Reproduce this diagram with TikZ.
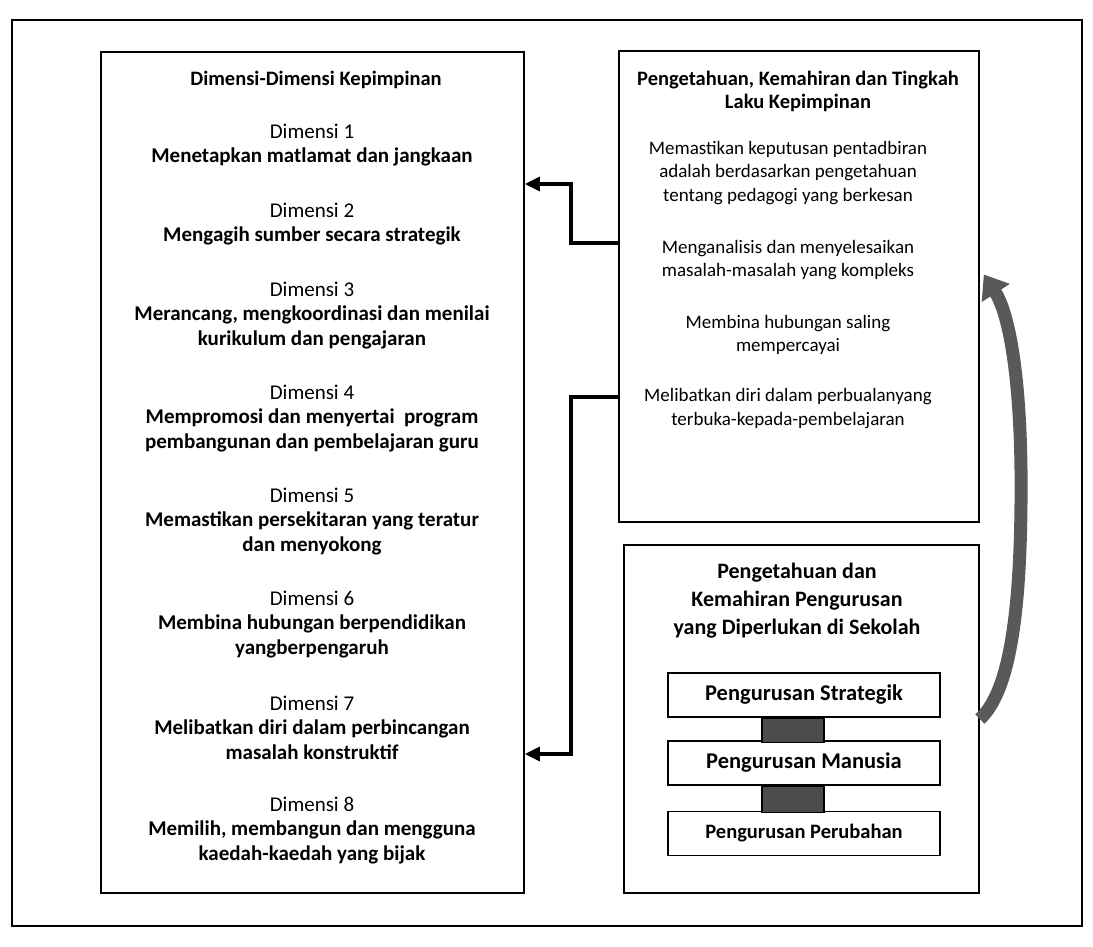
\documentclass[tikz,border=0pt]{standalone}
\usepackage{fontspec}
\setmainfont{Carlito}
\usetikzlibrary{calc, positioning, arrows.meta}

\begin{document}
\begin{tikzpicture}[x=1pt, y=-1pt, >={Triangle[length=15pt, width=14pt]},
    box/.style={draw, line width=1.6pt, rectangle, inner sep=0pt},
    subbox/.style={draw, line width=1.6pt, rectangle, minimum width=272pt, minimum height=44pt, font=\fontsize{22.5}{24}\selectfont\bfseries},
    link/.style={draw, line width=1.2pt, fill=black!70, minimum width=62pt, inner sep=0pt},
    dimtxt/.style={align=center, font=\fontsize{21}{24.5}\selectfont},
    knowtxt/.style={align=center, font=\fontsize{19}{23.5}\selectfont},
    conn/.style={line width=3.2pt}]
    \useasboundingbox (0,0) rectangle (1093,946);
        \node[box, minimum width=1070pt, minimum height=906pt] (frame) at (547,473) {};
        \node[box, minimum width=423pt, minimum height=841pt] (dims) at (312.5,472.5) {};
        \node[box, minimum width=360pt, minimum height=471pt] (know) at (799,286.5) {};
        \node[box, minimum width=355pt, minimum height=348pt] (mgmt) at (801.5,719) {};

        % left box
        \node[dimtxt, font=\fontsize{20.5}{24.5}\selectfont\bfseries] (dimtitle) at (316,80) {Dimensi-Dimensi Kepimpinan};
        \node[dimtxt] (d1) at (312,145) {Dimensi 1\\\textbf{Menetapkan matlamat dan jangkaan}};
        \node[dimtxt] (d2) at (312,224) {Dimensi 2\\\textbf{Mengagih sumber secara strategik}};
        \node[dimtxt] (d3) at (312,315.5) {Dimensi 3\\\textbf{Merancang, mengkoordinasi dan menilai}\\\textbf{kurikulum dan pengajaran}};
        \node[dimtxt] (d4) at (312,418.5) {Dimensi 4\\\textbf{Mempromosi dan menyertai\ \ program}\\\textbf{pembangunan dan pembelajaran guru}};
        \node[dimtxt] (d5) at (312,521.5) {Dimensi 5\\\textbf{Memastikan persekitaran yang teratur}\\\textbf{dan menyokong}};
        \node[dimtxt] (d6) at (312,624.5) {Dimensi 6\\\textbf{Membina hubungan berpendidikan}\\\textbf{yangberpengaruh}};
        \node[dimtxt] (d7) at (312,727.5) {Dimensi 7\\\textbf{Melibatkan diri dalam perbincangan}\\\textbf{masalah konstruktif}};
        \node[dimtxt] (d8) at (312,830.5) {Dimensi 8\\\textbf{Memilih, membangun dan mengguna}\\\textbf{kaedah-kaedah yang bijak}};

        % right top box
        \node[knowtxt, font=\fontsize{20.5}{23}\selectfont\bfseries] (knowtitle) at (798,91.5) {Pengetahuan, Kemahiran dan Tingkah\\Laku Kepimpinan};
        \node[knowtxt] (k1) at (788,173) {Memastikan keputusan pentadbiran\\adalah berdasarkan pengetahuan\\tentang pedagogi yang berkesan};
        \node[knowtxt] (k2) at (788,260) {Menganalisis dan menyelesaikan\\masalah-masalah yang kompleks};
        \node[knowtxt] (k3) at (788,335) {Membina hubungan saling\\mempercayai};
        \node[knowtxt] (k4) at (788,408.5) {Melibatkan diri dalam perbualanyang\\terbuka-kepada-pembelajaran};

        % right bottom box
        \node[align=center, font=\fontsize{22}{28}\selectfont\bfseries] (mgmttitle) at (797,601) {Pengetahuan dan\\Kemahiran Pengurusan\\yang Diperlukan di Sekolah};
        \node[subbox] (strat) at (804,695) {Pengurusan Strategik};
        \node[subbox] (human) at (804,763) {Pengurusan Manusia};
        \node[subbox, font=\fontsize{20.5}{24}\selectfont\bfseries] (change) at (804,833.5) {Pengurusan Perubahan};
        \path (strat.south -| 793,0) node[link, anchor=north, minimum height=24pt] (link1) {};
        \path (human.south -| 793,0) node[link, anchor=north, minimum height=26pt] (link2) {};

        % connectors
        \draw[conn, ->] (know.west |- 0,243) -| (571,184) -- (dims.east |- 0,184);
        \draw[conn, ->] (know.west |- 0,397) -| (571,754) -- (dims.east |- 0,754);
        \draw[line width=13pt, black!65, -{Triangle[length=22pt, width=32pt]}]
            (mgmt.east) .. controls (1012,690) and (1022,600) .. (1021,470)
            .. controls (1020,380) and (1010,315) .. ($(know.east)+(4,-12)$);
\end{tikzpicture}
\end{document}
